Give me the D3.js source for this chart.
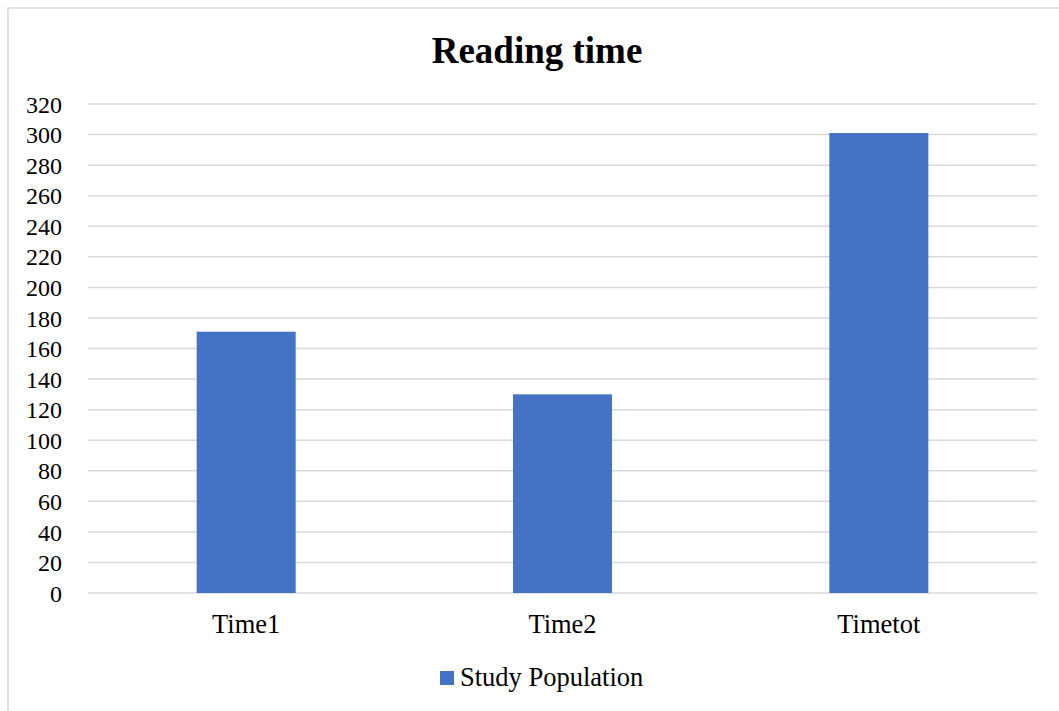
<!DOCTYPE html>
<html>
<head>
<meta charset="utf-8">
<script src="https://cdn.jsdelivr.net/npm/d3@7"></script>
<style>
  html, body { margin: 0; padding: 0; background: #fff; }
  svg { display: block; }
  text { font-family: "Liberation Serif", "Times New Roman", serif; fill: #000; }
</style>
</head>
<body>
<svg id="chart" width="1059" height="711"></svg>
<script>
// Reading time per phase for the study population
const categories = ["Time1", "Time2", "Timetot"];
const values = [171, 130, 301];
const seriesName = "Study Population";
const yTicks = [0, 20, 40, 60, 80, 100, 120, 140, 160, 180, 200, 220, 240, 260, 280, 300, 320];

const W = 1059, H = 711;
const margin = { left: 88, right: 22, top: 104, bottom: 118 };
const barColor = "#4472c4";
const gridColor = "#d9d9d9";
const serif = '"Liberation Serif", "Times New Roman", serif';

const svg = d3.select("#chart");

// chart area frame
svg.append("rect")
  .attr("x", 8).attr("y", 8)
  .attr("width", W + 20).attr("height", H + 20)
  .attr("fill", "#fff")
  .attr("stroke", gridColor).attr("stroke-width", 1.5);

const x = d3.scaleBand()
  .domain(categories)
  .range([margin.left, W - margin.right])
  .padding(0);

const y = d3.scaleLinear()
  .domain([0, 320])
  .range([H - margin.bottom, margin.top]);

// title
svg.append("text")
  .attr("x", 537).attr("y", 63)
  .attr("text-anchor", "middle")
  .style("font-size", "37px")
  .style("font-weight", "bold")
  .text("Reading time");

// horizontal gridlines
svg.append("g")
  .selectAll("line")
  .data(yTicks)
  .join("line")
  .attr("x1", margin.left).attr("x2", W - margin.right)
  .attr("y1", d => y(d)).attr("y2", d => y(d))
  .attr("stroke", gridColor).attr("stroke-width", 1.5);

// y axis labels
const yAxis = d3.axisLeft(y).tickValues(yTicks).tickSize(0).tickPadding(0);
const gy = svg.append("g")
  .attr("transform", `translate(${margin.left - 26},0)`)
  .call(yAxis);
gy.select(".domain").remove();
gy.selectAll("text")
  .style("font-family", serif)
  .style("font-size", "24px")
  .attr("fill", "#000")
  .attr("dy", "0.34em");

// bars
const barFrac = 0.313;
svg.append("g")
  .selectAll("rect")
  .data(categories.map((c, i) => ({ c, v: values[i] })))
  .join("rect")
  .attr("x", d => x(d.c) + x.bandwidth() * (1 - barFrac) / 2)
  .attr("width", x.bandwidth() * barFrac)
  .attr("y", d => y(d.v))
  .attr("height", d => y(0) - y(d.v))
  .attr("fill", barColor);

// x axis labels
const xAxis = d3.axisBottom(x).tickSize(0).tickPadding(0);
const gx = svg.append("g")
  .attr("transform", `translate(0,${y(0) + 40})`)
  .call(xAxis);
gx.select(".domain").remove();
gx.selectAll("text")
  .style("font-family", serif)
  .style("font-size", "26.5px")
  .attr("fill", "#000")
  .attr("y", 0)
  .attr("dy", "0");

// legend
const lg = svg.append("g").attr("transform", "translate(440,671)");
lg.append("rect").attr("width", 14).attr("height", 14).attr("fill", barColor);
lg.append("text")
  .attr("x", 20).attr("y", 15)
  .style("font-size", "26.5px")
  .text(seriesName);
</script>
</body>
</html>
